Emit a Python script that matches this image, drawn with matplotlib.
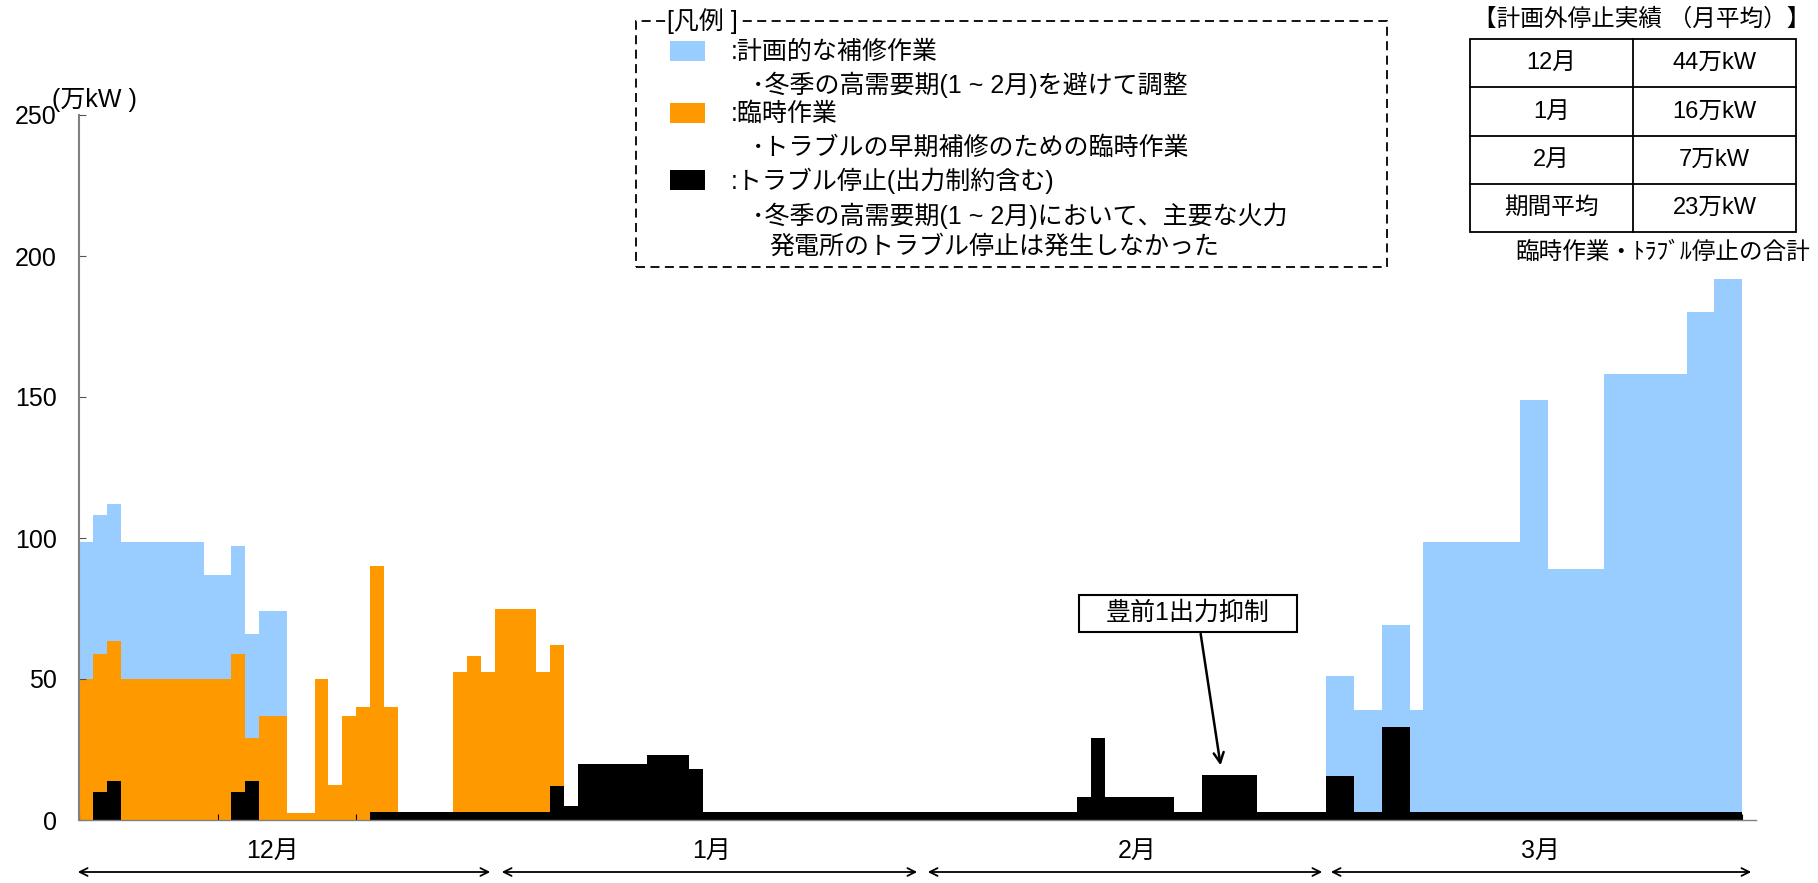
import matplotlib
matplotlib.use("Agg")
import matplotlib.pyplot as plt
import numpy as np
from matplotlib.patches import Rectangle, FancyArrowPatch
from matplotlib.lines import Line2D

plt.rcParams['font.family'] = ['Liberation Sans', 'Noto Sans CJK JP']

# daily values (万kW), Dec 1 .. Mar 31; heights are the visible tops of each colour
trouble = (
    [0, 10, 14, 0, 0, 0, 0, 0, 0, 0, 0, 10, 14, 0, 0, 0, 0, 0, 0, 0, 0,
     3, 3, 3, 3, 3, 3, 3, 3, 3, 3]                                          # Dec
    + [3, 3, 3, 12, 5, 20, 20, 20, 20, 20, 23, 23, 23, 18,
       3, 3, 3, 3, 3, 3, 3, 3, 3, 3, 3, 3, 3, 3, 3, 3, 3]                   # Jan
    + [3, 3, 3, 3, 3, 3, 3, 3, 3, 3, 8, 29, 8, 8, 8, 8, 8, 3, 3,
       16, 16, 16, 16, 3, 3, 3, 3, 3]                                       # Feb
    + [15.5, 15.5, 3, 3, 33, 33, 3, 3, 3, 3, 3, 3, 3, 3, 3, 3, 3, 3, 3, 3,
       3, 3, 3, 3, 3, 3, 3, 3, 3, 3, 0]                                     # Mar
)
temporary = (
    [50, 59, 63.5, 50, 50, 50, 50, 50, 50, 50, 50, 59, 29, 37, 37, 2.4, 2.4,
     50, 12.5, 37, 40, 90, 40, 0, 0, 0, 0, 52.5, 58, 52.5, 75]              # Dec
    + [75, 75, 52.5, 62, 0, 0, 0, 0, 0, 0, 0, 0, 0, 0, 0, 0, 0, 0, 0, 0,
       0, 0, 0, 0, 0, 0, 0, 0, 0, 0, 0]                                     # Jan
    + [0] * 28                                                              # Feb
    + [0] * 31                                                              # Mar
)
planned = (
    [98.5, 108, 112, 98.5, 98.5, 98.5, 98.5, 98.5, 98.5, 87, 87, 97, 66, 74, 74,
     0, 0, 0, 0, 0, 0, 0, 0, 0, 0, 0, 0, 0, 0, 0, 0]                        # Dec
    + [0] * 31                                                              # Jan
    + [0] * 28                                                              # Feb
    + [51, 51, 39, 39, 69, 69, 39, 98.5, 98.5, 98.5, 98.5, 98.5, 98.5, 98.5,
       149, 149, 89, 89, 89, 89, 158, 158, 158, 158, 158, 158, 180, 180,
       192, 192, 0]                                                         # Mar
)

months = ["12月", "1月", "2月", "3月"]
legend_labels = [":計画的な補修作業", ":臨時作業", ":トラブル停止(出力制約含む)"]
legend_notes = [
    ["･冬季の高需要期(1 ~ 2月)を避けて調整"],
    ["･トラブルの早期補修のための臨時作業"],
    ["･冬季の高需要期(1 ~ 2月)において、主要な火力", "発電所のトラブル停止は発生しなかった"],
]
table_rows = ["12月", "1月", "2月", "期間平均"]
table_vals = ["44万kW", "16万kW", "7万kW", "23万kW"]

C_BLUE = "#99CCFF"
C_ORANGE = "#FF9900"
C_BLACK = "#000000"

W, H = 1818, 883


def fx(x):
    return x / W


def fy(y):
    return 1 - y / H


fig = plt.figure(figsize=(W / 100, H / 100), dpi=100)
ax = fig.add_axes([fx(79), fy(820), fx(1756) - fx(79), fy(115) - fy(820)])

edges = np.arange(len(trouble) + 1)
ax.stairs(planned, edges, fill=True, color=C_BLUE, lw=0)
ax.stairs(temporary, edges, fill=True, color=C_ORANGE, lw=0)
ax.stairs(trouble, edges, fill=True, color=C_BLACK, lw=0)

ax.set_xlim(0, len(trouble))
ax.set_ylim(0, 250)
for s in ["top", "right"]:
    ax.spines[s].set_visible(False)
ax.spines["left"].set_color("#808080")
ax.spines["left"].set_linewidth(1.5)
ax.spines["bottom"].set_color("#808080")
ax.spines["bottom"].set_linewidth(1)
ax.set_yticks(range(0, 251, 50))
ax.tick_params(axis="y", direction="in", length=5, color="#555555",
               labelsize=18, pad=16)
ax.set_xticks(range(0, len(trouble), 10))
ax.set_xticklabels([])
ax.tick_params(axis="x", direction="in", length=4, color="black")

fig.text(fx(52), fy(100), "(万kW )", fontsize=18, va="center", ha="left")

# month arrows
arrow_px = [(75, 493), (499, 920), (925, 1325), (1328, 1754)]
label_px = [273, 712, 1137, 1541]
for m, (a, b), lx in zip(months, arrow_px, label_px):
    fig.add_artist(FancyArrowPatch((fx(a), fy(872)), (fx(b), fy(872)),
                                   transform=fig.transFigure, arrowstyle="<->",
                                   mutation_scale=14, lw=1.3, color="black"))
    fig.text(fx(lx), fy(851), m, fontsize=18, ha="center", va="center")

# annotation box + arrow
fig.add_artist(Rectangle((fx(1079), fy(632)), fx(1297) - fx(1079), fy(595) - fy(632),
                         transform=fig.transFigure, fc="white", ec="black", lw=1.5))
fig.text(fx(1188), fy(613), "豊前1出力抑制", fontsize=18, ha="center", va="center")
ax.annotate("", xy=(82.4, 18.4), xytext=(80.9, 67),
            arrowprops=dict(arrowstyle="->", lw=1.8, color="black",
                            mutation_scale=18))

# legend box
fig.add_artist(Rectangle((fx(636), fy(267)), fx(1387) - fx(636), fy(21) - fy(267),
                         transform=fig.transFigure, fill=False, ec="black",
                         lw=1.3, ls=(0, (5, 3))))
fig.text(fx(667), fy(21), "[凡例 ]", fontsize=18, ha="left", va="center",
         bbox=dict(fc="white", ec="none", pad=1))
sw_y = [51, 113, 180]
note_y = [85, 148, 216]
for c, lab, note, sy, ny in zip([C_BLUE, C_ORANGE, C_BLACK], legend_labels,
                                legend_notes, sw_y, note_y):
    fig.add_artist(Rectangle((fx(670), fy(sy + 10)), fx(705) - fx(670),
                             fy(sy - 10) - fy(sy + 10),
                             transform=fig.transFigure, fc=c, ec="none"))
    fig.text(fx(731), fy(sy + 1), lab, fontsize=18, ha="left", va="center")
    for k, line in enumerate(note):
        fig.text(fx(752 if k == 0 else 769), fy(ny + 31 * k), line, fontsize=18,
                 ha="left", va="center")

# table
fig.text(fx(1810), fy(20), "【計画外停止実績 （月平均）】", fontsize=17,
         ha="right", va="center")
row_y = [39, 87, 136, 184, 232]
tx0, txm, tx1 = 1470, 1633, 1796
fig.add_artist(Rectangle((fx(tx0), fy(row_y[-1])), fx(tx1) - fx(tx0),
                         fy(row_y[0]) - fy(row_y[-1]), transform=fig.transFigure,
                         fill=False, ec="black", lw=1.3))
for yy in row_y[1:-1]:
    fig.add_artist(Line2D([fx(tx0), fx(tx1)], [fy(yy), fy(yy)],
                          transform=fig.transFigure, color="black", lw=1.3))
fig.add_artist(Line2D([fx(txm), fx(txm)], [fy(row_y[0]), fy(row_y[-1])],
                      transform=fig.transFigure, color="black", lw=1.3))
for i, (r, v) in enumerate(zip(table_rows, table_vals)):
    yc = (row_y[i] + row_y[i + 1]) / 2
    fig.text(fx((tx0 + txm) / 2), fy(yc), r, fontsize=17, ha="center", va="center")
    fig.text(fx((txm + tx1) / 2), fy(yc), v, fontsize=17, ha="center", va="center")
fig.text(fx(1810), fy(253), "臨時作業・ﾄﾗﾌﾞﾙ停止の合計", fontsize=17,
         ha="right", va="center")

fig.savefig("out.png", dpi=100)
